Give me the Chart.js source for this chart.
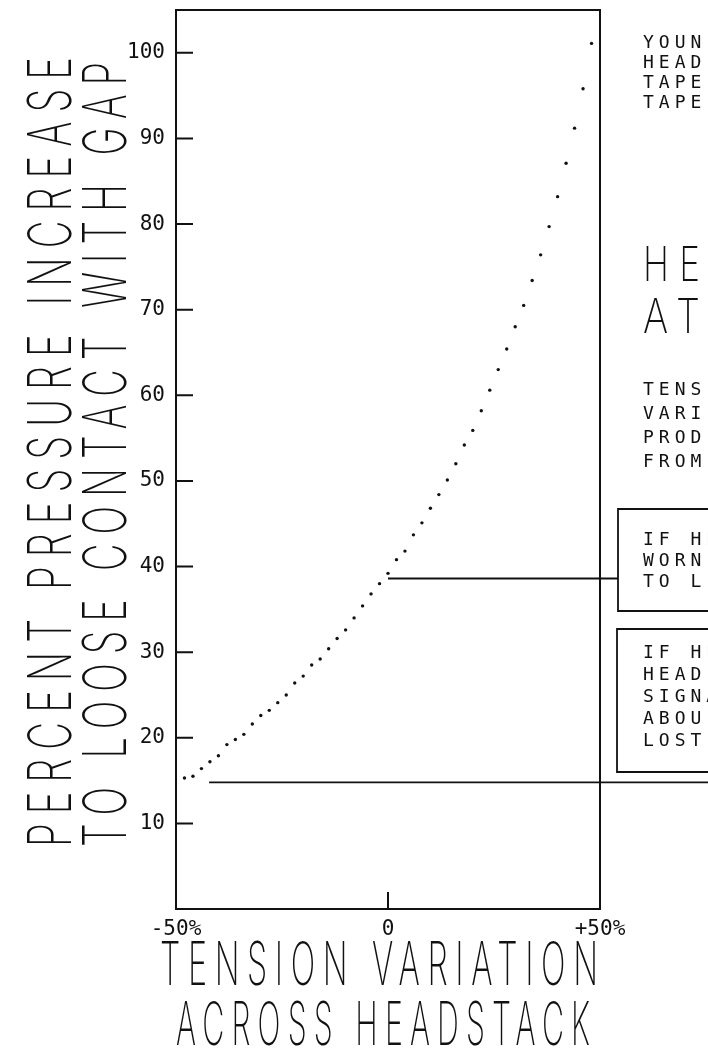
<!DOCTYPE html>
<html>
<head>
<meta charset="utf-8">
<script src="https://cdn.jsdelivr.net/npm/chart.js@4.4.1/dist/chart.umd.min.js"></script>
<style>
  html, body { margin: 0; padding: 0; background: #fff; }
  canvas { display: block; }
</style>
</head>
<body>
<canvas id="chart" width="708" height="1061"></canvas>
<script>
// tension variation across headstack (%) and pressure increase (%)
const tensionVariation = [
  -48, -46, -44, -42, -40, -38, -36, -34, -32, -30, -28, -26, -24, -22, -20, -18, -16,
  -14, -12, -10, -8, -6, -4, -2, 0, 2, 4, 6, 8, 10, 12, 14, 16, 18, 20, 22, 24, 26,
  28, 30, 32, 34, 36, 38, 40, 42, 44, 46, 48
];
const pressureIncrease = [
  15.3, 15.5, 16.4, 17.2, 17.9, 19.2, 19.8, 20.4, 21.6, 22.6, 23.2, 24.1, 25.0, 26.4, 27.2, 28.5, 29.2,
  30.4, 31.6, 32.6, 34.0, 35.4, 36.8, 38.0, 39.2, 40.8, 41.8, 43.7, 45.1, 46.8, 48.4, 50.1, 52.0, 54.2,
  55.9, 58.2, 60.6, 63.0, 65.4, 68.0, 70.5, 73.4, 76.4, 79.7, 83.2, 87.1, 91.2, 95.8, 101.1
];
const xTickValues = [-50, 0, 50];
const xTickLabels = ['-50%', '0', '+50%'];
const yTickValues = [10, 20, 30, 40, 50, 60, 70, 80, 90, 100];

const yTitleLines = ['PERCENT PRESSURE INCREASE', 'TO LOOSE CONTACT WITH GAP'];
const xTitleLines = ['TENSION VARIATION', 'ACROSS HEADSTACK'];

// reference levels drawn as horizontal rules
const wornLevel = 38.6;   // starts at 0% tension variation
const lostLevel = 14.8;   // starts near -42%
const lostStart = -42.2;

// note text, cut off by the right edge as in the original sheet
const noteTop = ['YOUN', 'HEAD', 'TAPE', 'TAPE'];
const noteBig = ['HE', 'AT'];
const noteMid = ['TENS', 'VARI', 'PROD', 'FROM'];
const noteBox1 = ['IF HE', 'WORN', 'TO L'];
const noteBox2 = ['IF HE', 'HEAD', 'SIGNA', 'ABOU', 'LOST'];

const INK = '#111';
const BIG = '200 60px Inter, "DejaVu Sans", sans-serif';

// draws one line squeezed (or stretched) to a given width, like plotter lettering
function fittedText(ctx, text, x, y, width, font, spacing, angle) {
  ctx.save();
  ctx.font = font;
  ctx.letterSpacing = spacing;
  ctx.textAlign = 'left';
  ctx.textBaseline = 'alphabetic';
  const w = ctx.measureText(text).width - parseFloat(spacing);
  ctx.translate(x, y);
  if (angle) ctx.rotate(angle);
  ctx.scale(width / w, 1);
  ctx.fillText(text, 0, 0);
  ctx.restore();
}

function lines(ctx, arr, x, y0, step, font, spacing) {
  ctx.save();
  ctx.font = font;
  ctx.letterSpacing = spacing;
  ctx.textAlign = 'left';
  ctx.textBaseline = 'alphabetic';
  arr.forEach((t, i) => ctx.fillText(t, x, y0 + i * step));
  ctx.restore();
}

const sheetPlugin = {
  id: 'sheet',
  afterDraw(chart) {
    const { ctx, chartArea: a, scales: { x, y } } = chart;
    ctx.save();
    ctx.strokeStyle = INK;
    ctx.fillStyle = INK;
    ctx.lineWidth = 2;

    // top and right of the frame
    ctx.beginPath();
    ctx.moveTo(a.left, a.top);
    ctx.lineTo(a.right, a.top);
    ctx.lineTo(a.right, a.bottom);
    ctx.stroke();

    // inward ticks
    ctx.beginPath();
    yTickValues.forEach(v => {
      const py = y.getPixelForValue(v);
      ctx.moveTo(a.left, py);
      ctx.lineTo(a.left + 17, py);
    });
    const px0 = x.getPixelForValue(0);
    ctx.moveTo(px0, a.bottom);
    ctx.lineTo(px0, a.bottom - 17);
    ctx.stroke();

    // reference rules
    ctx.lineWidth = 1.8;
    ctx.beginPath();
    let py = y.getPixelForValue(wornLevel);
    ctx.moveTo(x.getPixelForValue(0), py);
    ctx.lineTo(618, py);
    py = y.getPixelForValue(lostLevel);
    ctx.moveTo(x.getPixelForValue(lostStart), py);
    ctx.lineTo(chart.width, py);
    ctx.stroke();

    // note boxes
    ctx.beginPath();
    ctx.moveTo(720, 509); ctx.lineTo(618, 509); ctx.lineTo(618, 611); ctx.lineTo(720, 611);
    ctx.moveTo(720, 629); ctx.lineTo(617, 629); ctx.lineTo(617, 772); ctx.lineTo(720, 772);
    ctx.stroke();

    // note text
    const small = '18px "DejaVu Sans Mono"';
    lines(ctx, noteTop, 643, 48, 20, small, '5px');
    fittedText(ctx, noteBig[0], 643, 281, 57, '200 48px Inter, "DejaVu Sans"', '14px');
    fittedText(ctx, noteBig[1], 643, 333, 57, '200 48px Inter, "DejaVu Sans"', '14px');
    lines(ctx, noteMid, 643, 395, 24, small, '5px');
    lines(ctx, noteBox1, 643, 545, 21, small, '5px');
    lines(ctx, noteBox2, 643, 658, 22, small, '5px');

    // axis titles
    fittedText(ctx, yTitleLines[0], 71, 847, 790, BIG, '14px', -Math.PI / 2);
    fittedText(ctx, yTitleLines[1], 126, 847, 785, BIG, '14px', -Math.PI / 2);
    fittedText(ctx, xTitleLines[0], 160, 985, 438, BIG, '14px');
    fittedText(ctx, xTitleLines[1], 176, 1045, 414, BIG, '14px');

    ctx.restore();
  }
};

const points = tensionVariation.map((t, i) => ({ x: t, y: pressureIncrease[i] }));

new Chart(document.getElementById('chart'), {
  type: 'scatter',
  data: {
    datasets: [{
      data: points,
      pointRadius: 1.7,
      pointBackgroundColor: INK,
      pointBorderWidth: 0,
      showLine: false
    }]
  },
  options: {
    responsive: false,
    animation: false,
    devicePixelRatio: 1,
    layout: { padding: { top: 10, right: 108, left: 0, bottom: 0 } },
    plugins: { legend: { display: false }, tooltip: { enabled: false } },
    scales: {
      x: {
        type: 'linear',
        min: -50,
        max: 50,
        afterBuildTicks: s => { s.ticks = xTickValues.map(v => ({ value: v })); },
        afterFit: s => { s.height = 152; s.paddingLeft = 0; s.paddingRight = 0; },
        grid: { display: false, drawTicks: false },
        border: { display: true, color: INK, width: 2 },
        ticks: {
          color: INK,
          padding: 8,
          maxRotation: 0,
          font: { family: '"DejaVu Sans Mono"', size: 21 },
          callback: v => xTickLabels[xTickValues.indexOf(v)]
        }
      },
      y: {
        min: 0,
        max: 105,
        afterBuildTicks: s => { s.ticks = yTickValues.map(v => ({ value: v })); },
        afterFit: s => { s.width = 176; s.paddingTop = 0; s.paddingBottom = 0; },
        grid: { display: false, drawTicks: false },
        border: { display: true, color: INK, width: 2 },
        ticks: {
          color: INK,
          padding: 11,
          font: { family: '"DejaVu Sans Mono"', size: 21 }
        }
      }
    }
  },
  plugins: [sheetPlugin]
});
</script>
</body>
</html>
